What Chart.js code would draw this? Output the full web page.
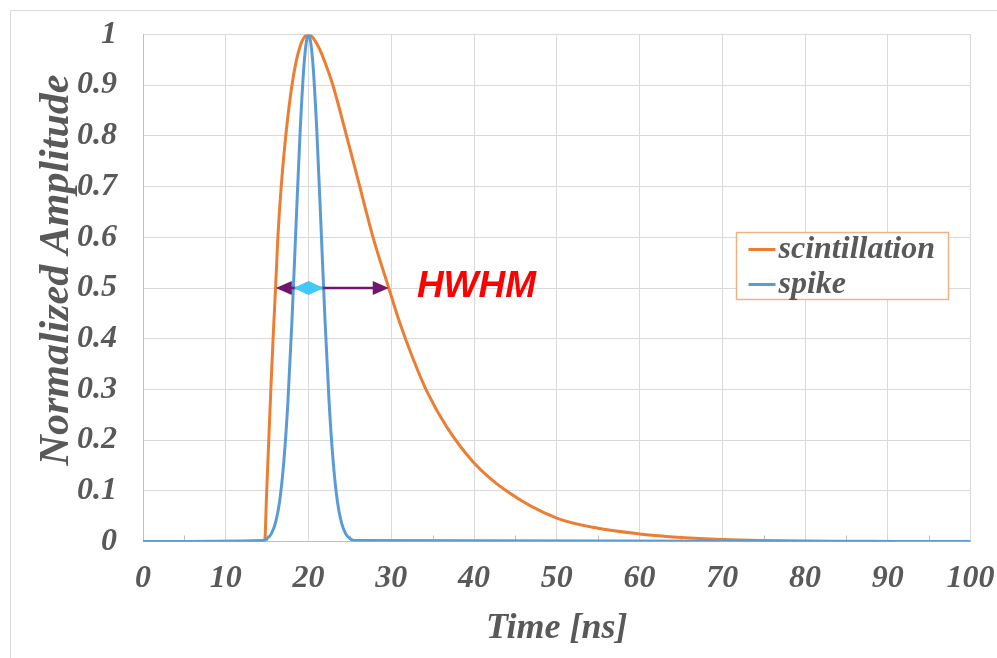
<!DOCTYPE html>
<html>
<head>
<meta charset="utf-8">
<script src="https://cdn.jsdelivr.net/npm/chart.js@4.4.1/dist/chart.umd.min.js"></script>
<style>
  html, body { margin: 0; padding: 0; background: #fff; }
</style>
</head>
<body>
<canvas id="pulseChart" width="997" height="658"></canvas>
<script>
// (time in ns, amplitude normalised)
const scintTime  = [0, 14.7, 14.95, 15.2, 15.45, 15.72, 16.02, 16.3, 16.7, 17.25, 18.0, 18.55, 19.05, 19.5, 20.0, 21.2, 22.2, 22.95, 24.6, 26.2, 27.8, 29.7, 31.0, 32.6, 34.4, 36.7, 39.9, 43.9, 50, 55, 60, 65, 70, 75, 80, 85, 91]
const scintValue = [0, 0, 0.10, 0.20, 0.30, 0.40, 0.50, 0.60, 0.70, 0.80, 0.90, 0.95, 0.98, 0.995, 1.0, 0.976, 0.936, 0.90, 0.80, 0.70, 0.60, 0.50, 0.433, 0.362, 0.293, 0.226, 0.157, 0.10, 0.046, 0.026, 0.015, 0.008, 0.004, 0.002, 0.001, 0.0005, 0]

const spikeTime  = [0, 14.5, 15, 15.5, 16, 16.5, 17, 17.5, 18, 18.5, 19, 19.5, 20, 20.5, 21, 21.5, 22, 22.5, 23, 23.5, 24, 24.5, 25, 25.5, 100]
const spikeValue = [0, 0.002, 0.006, 0.015, 0.036, 0.078, 0.154, 0.272, 0.435, 0.626, 0.812, 0.949, 1, 0.949, 0.812, 0.626, 0.435, 0.272, 0.154, 0.078, 0.036, 0.015, 0.006, 0.002, 0]

const seriesNames = ['scintillation', 'spike']
const minorTicks = [5, 15, 25, 35, 45, 55, 65, 75, 85, 95]
const xTitle = 'Time [ns]'
const yTitle = 'Normalized Amplitude'

// HWHM marker: level, arrow ends, spike half-width ends, peak, label anchor
const hwhmLevel = 0.5
const hwhmArrow = [16.05, 29.7]
const spikeHalf = [18.2, 21.85]
const peakTime = 20
const hwhmLabel = ['HWHM', 33.1]

const serif = 'Liberation Serif'
const gray = '#595959'

const toPoints = (xs, ys) => xs.map((x, i) => ({ x: x, y: ys[i] }))

const extras = {
  id: 'extras',
  beforeDraw(chart) {
    const c = chart.ctx
    c.save()
    c.fillStyle = '#fff'
    c.fillRect(0, 0, chart.width, chart.height)
    c.strokeStyle = '#D9D9D9'
    c.lineWidth = 1
    c.beginPath()
    c.moveTo(10.5, chart.height)
    c.lineTo(10.5, 10.5)
    c.lineTo(chart.width, 10.5)
    c.stroke()
    // y axis title
    c.translate(57, 270)
    c.rotate(-Math.PI / 2)
    c.fillStyle = gray
    c.font = 'italic bold 42px "' + serif + '", serif'
    c.textAlign = 'center'
    c.textBaseline = 'middle'
    c.fillText(yTitle, 0, 0)
    c.restore()
  },
  beforeDatasetsDraw(chart) {
    const c = chart.ctx
    const xs = chart.scales.x
    const y0 = chart.chartArea.bottom
    c.save()
    c.strokeStyle = '#BFBFBF'
    c.lineWidth = 1
    minorTicks.forEach(t => {
      const px = Math.round(xs.getPixelForValue(t)) + 0.5
      c.beginPath()
      c.moveTo(px, y0)
      c.lineTo(px, y0 - 6)
      c.stroke()
    })
    c.restore()
  },
  afterDatasetsDraw(chart) {
    const c = chart.ctx
    const xs = chart.scales.x
    const ys = chart.scales.y
    const yy = ys.getPixelForValue(hwhmLevel)
    const xl = xs.getPixelForValue(hwhmArrow[0])
    const xr = xs.getPixelForValue(hwhmArrow[1])
    const xc = xs.getPixelForValue(peakTime)
    const dl = xs.getPixelForValue(spikeHalf[0])
    const dr = xs.getPixelForValue(spikeHalf[1])
    c.save()
    // purple double arrow
    c.strokeStyle = '#70176B'
    c.fillStyle = '#70176B'
    c.lineWidth = 2.5
    c.beginPath()
    c.moveTo(xl + 10, yy)
    c.lineTo(xr - 10, yy)
    c.stroke()
    c.beginPath()
    c.moveTo(xl, yy)
    c.lineTo(xl + 16, yy - 7)
    c.lineTo(xl + 16, yy + 7)
    c.closePath()
    c.fill()
    c.beginPath()
    c.moveTo(xr, yy)
    c.lineTo(xr - 16, yy - 7)
    c.lineTo(xr - 16, yy + 7)
    c.closePath()
    c.fill()
    // cyan diamond over the spike width
    c.fillStyle = '#41C8F5'
    c.beginPath()
    c.moveTo(dl, yy)
    c.lineTo(xc, yy - 7)
    c.lineTo(dr, yy)
    c.lineTo(xc, yy + 7)
    c.closePath()
    c.fill()
    // label
    c.fillStyle = '#FF0000'
    c.font = 'italic bold 37px "Liberation Sans", Arial, sans-serif'
    c.textAlign = 'left'
    c.textBaseline = 'middle'
    c.fillText(hwhmLabel[0], xs.getPixelForValue(hwhmLabel[1]), yy - 1)
    c.restore()

    // legend box
    const lx = 736.5, ly = 232.5, lw = 212, lh = 67
    c.save()
    c.fillStyle = '#fff'
    c.fillRect(lx, ly, lw, lh)
    c.strokeStyle = '#F4B183'
    c.lineWidth = 1.5
    c.strokeRect(lx, ly, lw, lh)
    c.font = 'italic bold 32px "' + serif + '", serif'
    c.textBaseline = 'middle'
    c.textAlign = 'left'
    chart.data.datasets.forEach((ds, i) => {
      const rowY = ly + 17 + i * 35
      c.strokeStyle = ds.borderColor
      c.lineWidth = 3
      c.beginPath()
      c.moveTo(lx + 12, rowY)
      c.lineTo(lx + 39, rowY)
      c.stroke()
      c.fillStyle = gray
      c.fillText(ds.label, lx + 42, rowY)
    })
    c.restore()
  }
}

const tickFont = { family: serif, size: 32, style: 'italic', weight: 'bold' }

new Chart(document.getElementById('pulseChart'), {
  type: 'line',
  data: {
    datasets: [
      {
        label: seriesNames[0],
        data: toPoints(scintTime, scintValue),
        borderColor: '#ED7D31',
        borderWidth: 3,
        pointRadius: 0,
        cubicInterpolationMode: 'monotone',
        order: 1
      },
      {
        label: seriesNames[1],
        data: toPoints(spikeTime, spikeValue),
        borderColor: '#5B9BD5',
        borderWidth: 3,
        pointRadius: 0,
        cubicInterpolationMode: 'monotone',
        order: 0
      }
    ]
  },
  options: {
    responsive: false,
    animation: false,
    events: [],
    layout: { padding: { left: 10, top: 34.5, right: 26.5, bottom: 0 } },
    plugins: { legend: { display: false }, tooltip: { enabled: false } },
    scales: {
      x: {
        type: 'linear',
        min: 0,
        max: 100,
        ticks: { stepSize: 10, padding: 18, color: gray, font: tickFont, maxRotation: 0 },
        grid: { color: '#D9D9D9', drawTicks: false },
        border: { color: '#BFBFBF' },
        title: {
          display: true,
          text: xTitle,
          color: gray,
          font: { family: serif, size: 36, style: 'italic', weight: 'bold' },
          padding: { top: 0, bottom: 8 }
        },
        afterFit: s => { s.height = 116.5; s.paddingLeft = 0; s.paddingRight = 0 }
      },
      y: {
        min: 0,
        max: 1,
        ticks: {
          stepSize: 0.1,
          padding: 26,
          color: gray,
          font: tickFont,
          callback: v => String(Math.round(v * 10) / 10)
        },
        grid: { color: '#D9D9D9', drawTicks: false },
        border: { color: '#BFBFBF' },
        afterFit: s => { s.width = 133; s.paddingTop = 0; s.paddingBottom = 0 }
      }
    }
  },
  plugins: [extras]
})
</script>
</body>
</html>
